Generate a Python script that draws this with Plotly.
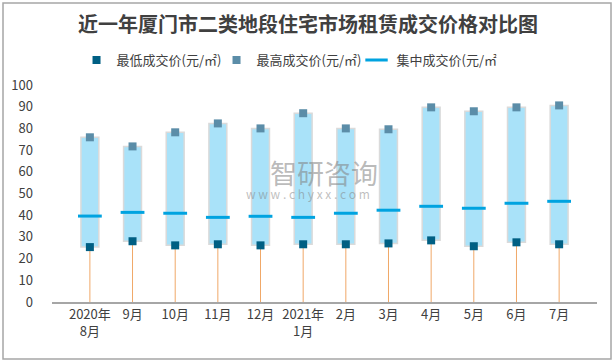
import plotly.graph_objects as go

categories = ["2020年<br>8月", "9月", "10月", "11月", "12月", "2021年<br>1月",
              "2月", "3月", "4月", "5月", "6月", "7月"]
low_price = [25.3, 28.0, 26.1, 26.6, 26.1, 26.6, 26.6, 27.0, 28.4, 25.7, 27.5, 26.6]
high_price = [75.9, 71.7, 78.2, 82.3, 80.0, 87.0, 80.0, 79.6, 89.7, 87.9, 89.7, 90.6]
mid_price = [39.6, 41.3, 40.9, 39.0, 39.5, 39.0, 40.9, 42.3, 44.1, 43.2, 45.5, 46.4]
y_ticks = [0, 10, 20, 30, 40, 50, 60, 70, 80, 90, 100]

FONT = "Noto Sans CJK SC"

fig = go.Figure()

fig.add_trace(go.Bar(
    x=categories, base=low_price,
    y=[h - l for h, l in zip(high_price, low_price)],
    width=0.42, marker=dict(color="#A9E2F9", line=dict(color="#DADADA", width=1.5)),
    showlegend=False, hoverinfo="skip"))

fig.add_trace(go.Scatter(
    x=categories, y=low_price, mode="markers", name="最低成交价(元/㎡)",
    marker=dict(symbol="square", size=8, color="#005F83"),
    error_y=dict(type="data", symmetric=False, array=[0] * len(low_price),
                 arrayminus=low_price, color="#F0A868", thickness=1, width=0)))

fig.add_trace(go.Scatter(
    x=categories, y=high_price, mode="markers", name="最高成交价(元/㎡)",
    marker=dict(symbol="square", size=8, color="#5B8DA8")))

fig.add_trace(go.Scatter(
    x=categories, y=mid_price, mode="markers", name="集中成交价(元/㎡)",
    marker=dict(symbol="line-ew", size=17, line=dict(color="#00A3E0", width=3))))

fig.update_layout(
    width=616, height=364,
    margin=dict(l=52, r=19, t=85, b=62, autoexpand=False),
    paper_bgcolor="white", plot_bgcolor="white",
    font=dict(family=FONT, color="#404040", size=13),
    title=dict(text="<b>近一年厦门市二类地段住宅市场租赁成交价格对比图</b>",
               x=0.5, xref="container", xanchor="center", y=0.931, yanchor="middle",
               font=dict(family=FONT, size=20, color="#404040")),
    legend=dict(orientation="h", x=0.045, xref="paper", xanchor="left",
                y=1.115, yref="paper", yanchor="middle", font=dict(size=13, color="#404040"),
                itemwidth=30, entrywidth=95, entrywidthmode="pixels"),
    xaxis=dict(type="category", showline=True, linecolor="#A6A6A6", linewidth=1.5,
               ticks="", showgrid=False, tickfont=dict(size=13), tickangle=0),
    yaxis=dict(range=[0, 100], tickvals=y_ticks, showgrid=False, zeroline=False,
               showline=False, ticks="", ticklabelstandoff=18, tickfont=dict(size=13)),
    shapes=[dict(type="rect", xref="paper", yref="paper",
                 x0=-0.0899, x1=1.0257, y0=-0.2627, y1=1.378,
                 line=dict(color="#A6A6A6", width=1.5), fillcolor="rgba(0,0,0,0)")],
    annotations=[
        dict(text="智研咨询", xref="paper", yref="paper", x=0.499, y=0.599,
             showarrow=False, font=dict(family=FONT, size=27, color="rgba(128,128,128,0.55)")),
        dict(text="w w w . c h y x x . c o m", xref="paper", yref="paper", x=0.47, y=0.498,
             showarrow=False, font=dict(family=FONT, size=12, color="rgba(128,128,128,0.5)")),
    ],
)

fig.write_html("out.html", config={"displayModeBar": False},
               post_script="document.body.style.margin='0';")
